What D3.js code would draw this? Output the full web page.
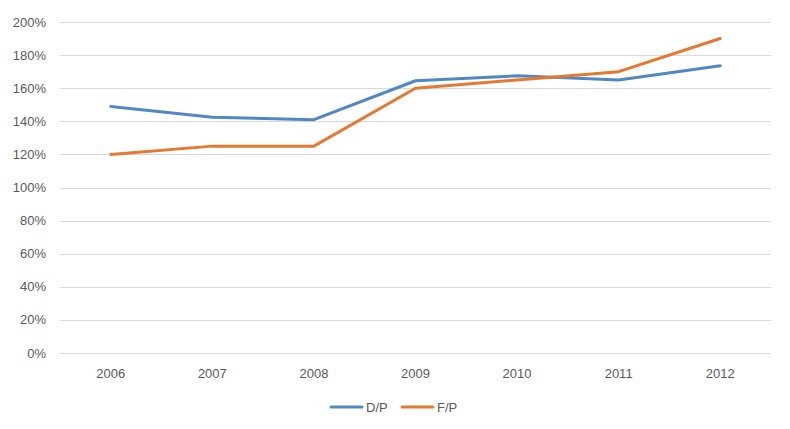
<!DOCTYPE html>
<html><head><meta charset="utf-8">
<script src="https://cdn.jsdelivr.net/npm/d3@7"></script>
<style>body{margin:0;background:#fff}svg{display:block}</style>
</head><body>
<svg id="c" width="790" height="429"></svg>
<script>
const years = ["2006","2007","2008","2009","2010","2011","2012"];
const dp = [149, 142.5, 141, 164.5, 167.5, 165, 173.5];
const fp = [120, 125, 125, 160, 165, 170, 190];
const yTicks = [0,20,40,60,80,100,120,140,160,180,200];
const seriesNames = ["D/P","F/P"];
const seriesColors = ["#4F88C3","#E5792F"];

const svg = d3.select("#c");
const font = "'Liberation Sans', Arial, sans-serif";
const x = d3.scaleBand().domain(years).range([60, 771]);
const y = d3.scaleLinear().domain([0,200]).range([353, 22]);

svg.append("g").selectAll("line").data(yTicks).join("line")
  .attr("x1",60).attr("x2",771)
  .attr("y1",d=>Math.round(y(d))+0.5).attr("y2",d=>Math.round(y(d))+0.5)
  .attr("stroke","#d9d9d9").attr("stroke-width",1);

svg.append("g").selectAll("text").data(yTicks).join("text")
  .attr("x",46).attr("y",d=>y(d)).attr("dy","0.35em")
  .attr("text-anchor","end").attr("font-family",font).attr("font-size",13)
  .attr("fill","#595959").text(d=>d+"%");

svg.append("g").selectAll("text").data(years).join("text")
  .attr("x",d=>x(d)+x.bandwidth()/2).attr("y",373).attr("dy","0.35em")
  .attr("text-anchor","middle").attr("font-family",font).attr("font-size",13)
  .attr("fill","#595959").text(d=>d);

const line = d3.line().x((d,i)=>x(years[i])+x.bandwidth()/2).y(d=>y(d));
[dp, fp].forEach((s,i)=>{
  svg.append("path").datum(s).attr("d",line).attr("fill","none")
    .attr("stroke",seriesColors[i]).attr("stroke-width",3)
    .attr("stroke-linejoin","round").attr("stroke-linecap","round");
});

const lg = svg.append("g");
const lx = [331, 402];
seriesNames.forEach((n,i)=>{
  lg.append("line").attr("x1",lx[i]).attr("x2",lx[i]+31).attr("y1",407).attr("y2",407)
    .attr("stroke",seriesColors[i]).attr("stroke-width",3).attr("stroke-linecap","round");
  lg.append("text").attr("x",lx[i]+35).attr("y",407).attr("dy","0.35em")
    .attr("font-family",font).attr("font-size",13).attr("fill","#595959").text(n);
});
</script>
</body></html>
